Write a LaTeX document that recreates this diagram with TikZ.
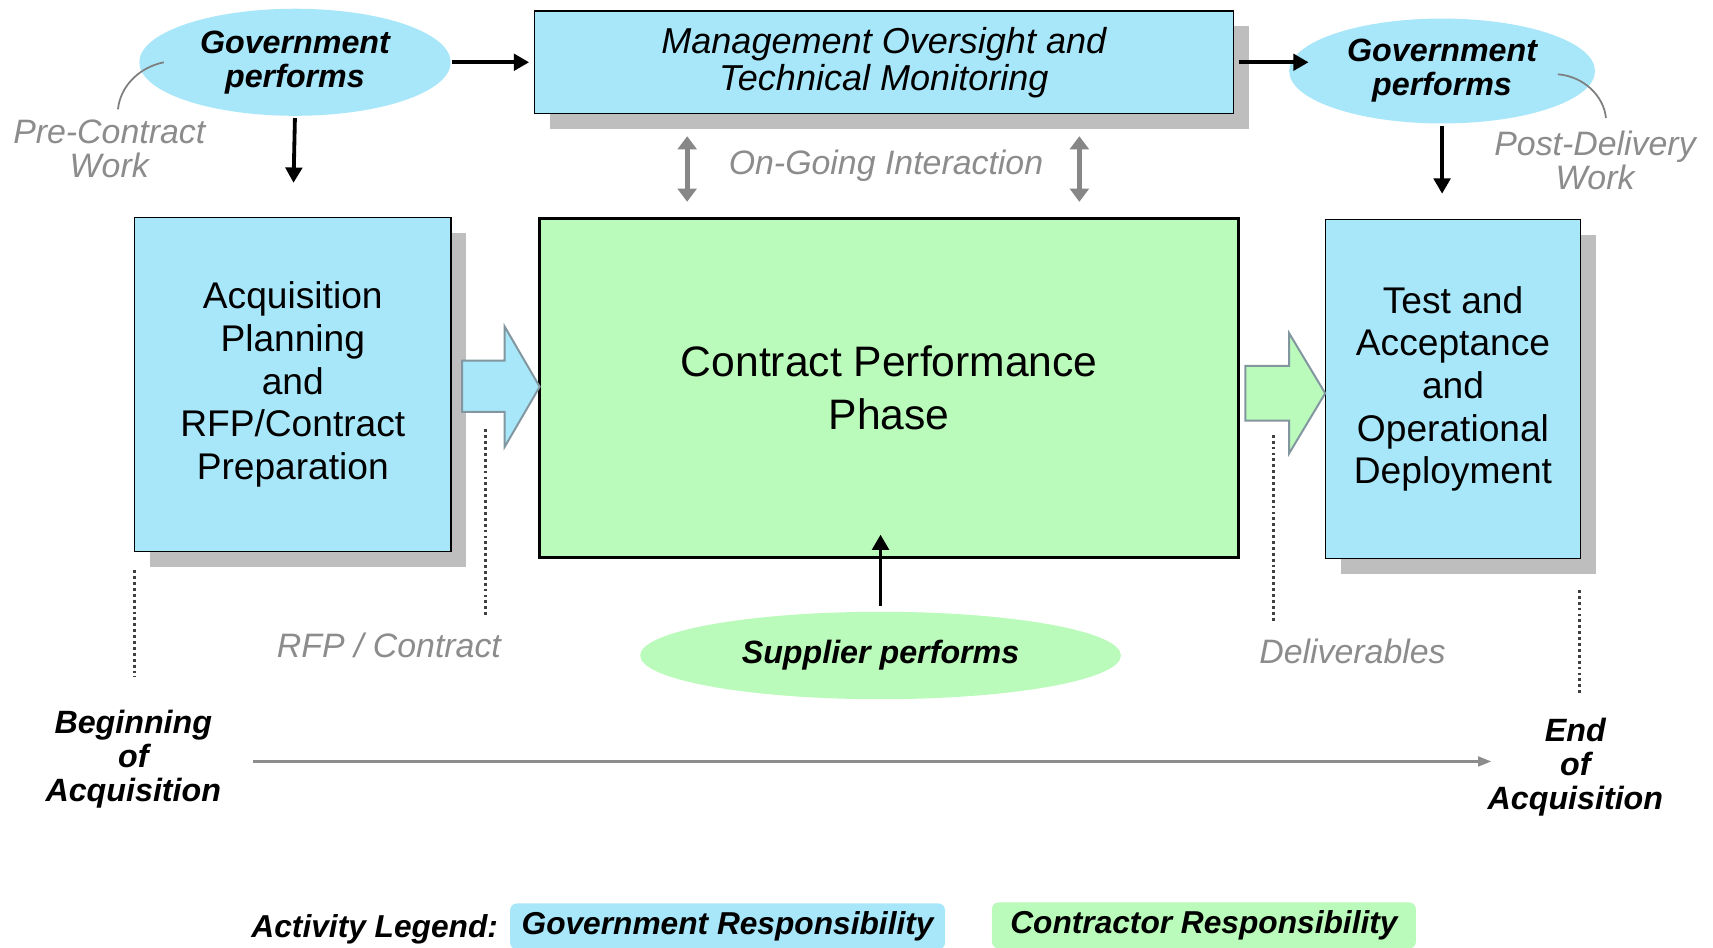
\documentclass[tikz,border=0pt]{standalone}
\usepackage{fontspec}
\setmainfont{Liberation Sans}
\usetikzlibrary{shapes.geometric,arrows.meta,shadows}
\definecolor{govblue}{RGB}{168,231,250}
\definecolor{congreen}{RGB}{186,250,186}
\definecolor{shadowgray}{RGB}{190,190,190}
\definecolor{labelgray}{RGB}{140,140,140}
\definecolor{dblgray}{RGB}{135,135,135}
\definecolor{blockedge}{RGB}{130,150,160}
\begin{document}
\begin{tikzpicture}[x=1pt,y=-1pt,
  govell/.style={ellipse, fill=govblue, inner sep=0pt, align=center,
    font=\fontsize{29.5}{31}\selectfont\bfseries\itshape},
  conell/.style={ellipse, fill=congreen, inner sep=0pt, align=center,
    font=\fontsize{29.5}{31}\selectfont\bfseries\itshape},
  shad/.style={drop shadow={shadow xshift=14pt, shadow yshift=-14pt, fill=shadowgray, opacity=1}},
  govbox/.style={rectangle, draw=black, line width=1.3pt, fill=govblue, align=center, inner sep=0pt, shad},
  conbox/.style={rectangle, draw=black, line width=2.6pt, fill=congreen, align=center, inner sep=0pt},
  graylab/.style={align=center, text=labelgray, inner sep=0pt, font=\fontsize{31}{31}\selectfont\itshape},
  endlab/.style={align=center, inner sep=0pt, font=\fontsize{29.5}{31}\selectfont\bfseries\itshape},
  blk/.style={line width=3.5pt, -{Triangle[length=14pt,width=15pt]}},
  dbl/.style={line width=4.5pt, draw=dblgray, {Triangle[length=12pt,width=17pt]}-{Triangle[length=12pt,width=17pt]}},
  dotline/.style={line width=2.8pt, draw=black!75, dash pattern=on 2.6pt off 2.8pt},
  callout/.style={line width=1.6pt, draw=labelgray!90!black},
  legbox/.style={rectangle, rounded corners=6pt, inner sep=0pt, font=\fontsize{29}{31}\selectfont\bfseries\itshape},
  blockarrow/.style={line width=1.8pt, draw=blockedge, line join=miter}
]
\useasboundingbox (0,0) rectangle (1568,867);
\fill[white] (0,0) rectangle (1568,867);

% top row
\node[govell, minimum width=285pt, minimum height=98pt] (govL) at (270,57) {Government\\performs};
\node[govbox, minimum width=640pt, minimum height=94pt,
  font=\fontsize{33}{34}\selectfont\itshape] (mgmt) at (809,57) {Management Oversight and\\Technical Monitoring};
\node[govell, minimum width=280pt, minimum height=96pt] (govR) at (1320,65) {Government\\performs};

\node[graylab] (pre) at (100,136) {Pre-Contract\\Work};
\node[graylab] (post) at (1460,147) {Post-Delivery\\Work};
\node[graylab] (ogi) at (811,152) {On-Going Interaction};

\draw[callout] (150,57) .. controls (126,62) and (110,80) .. (108,100);
\draw[callout] (1426,68) .. controls (1450,70) and (1468,88) .. (1470,108);

% main row
\node[govbox, minimum width=290pt, minimum height=306pt,
  font=\fontsize{34}{39}\selectfont] (acq) at (268,352) {Acquisition\\Planning\\and\\RFP/Contract\\Preparation};
\node[conbox, minimum width=640pt, minimum height=310pt,
  font=\fontsize{39}{48}\selectfont] (cpp) at (814,355) {Contract Performance\\Phase};
\node[govbox, minimum width=233pt, minimum height=310pt,
  font=\fontsize{34}{39}\selectfont] (tad) at (1330,356) {Test and\\Acceptance\\and\\Operational\\Deployment};

% block arrows
\filldraw[blockarrow, fill=govblue] (423,330) -- (462,330) -- (462,299) -- (494,354) -- (462,409) -- (462,377) -- (423,377) -- cycle;
\filldraw[blockarrow, fill=congreen] (1140,335) -- (1180,335) -- (1180,305) -- (1213,360) -- (1180,415) -- (1180,385) -- (1140,385) -- cycle;

% supplier
\node[conell, minimum width=440pt, minimum height=80pt] (sup) at (806,600) {Supplier performs};

% labels below
\node[graylab] (rfp) at (356,591) {RFP / Contract};
\node[graylab] (deliv) at (1238,596) {Deliverables};
\node[endlab] (beg) at (122,695) {Beginning\\of\\Acquisition};
\node[endlab] (fin) at (1442,702) {End\\of\\Acquisition};

% connectors
\draw[blk, shorten >=4pt, shorten <=1pt] (govL.east) -- (mgmt.west);
\draw[blk, shorten >=31pt, shorten <=2pt] (govL.south) -- (acq.north);
\draw[blk, shorten <=4pt, shorten >=-18pt] (mgmt.east) -- (mgmt.east -| govR.west);
\draw[blk, shorten <=2pt, shorten >=23pt] (govR.south) -- (govR.south |- tad.north);
\draw[blk, shorten <=5pt, shorten >=-22pt] (sup.north) -- (sup.north |- cpp.south);

\coordinate (ia) at (629,0);
\coordinate (ib) at (988,0);
\draw[dbl, shorten <=20pt, shorten >=14pt] (mgmt.south -| ia) -- (cpp.north -| ia);
\draw[dbl, shorten <=20pt, shorten >=14pt] (mgmt.south -| ib) -- (cpp.north -| ib);

% dotted markers
\draw[dotline] (444,393) -- (444,565);
\draw[dotline] (123,522) -- (123,620);
\draw[dotline] (1166,398) -- (1166,570);
\draw[dotline] (1446,540) -- (1446,635);

% timeline
\coordinate (t0) at (232,697);
\coordinate (t1) at (1365,697);
\draw[line width=2pt, draw=labelgray, -{Triangle[length=12pt,width=9pt]}] (t0) -- (t1);

% legend
\node[inner sep=0pt, font=\fontsize{29}{31}\selectfont\bfseries\itshape] (leglab) at (343,851) {Activity Legend:};
\node[legbox, fill=govblue, minimum width=398pt, minimum height=42pt] (legG) at (666,848) {Government Responsibility};
\node[legbox, fill=congreen, minimum width=388pt, minimum height=42pt] (legC) at (1102,847) {Contractor Responsibility};
\end{tikzpicture}
\end{document}
